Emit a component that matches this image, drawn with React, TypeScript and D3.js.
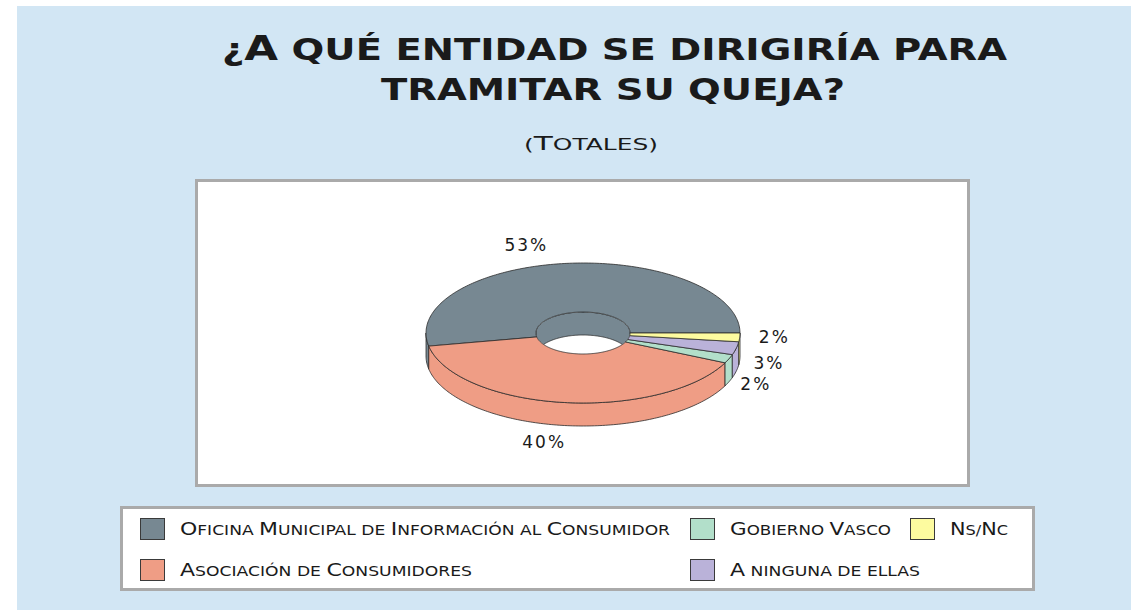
import React from "react";
import * as d3 from "d3";

// slices in the legend's order (column by column)
const categories: string[] = [
  "Oficina Municipal de Información al Consumidor",
  "Asociación de Consumidores",
  "Gobierno Vasco",
  "A ninguna de ellas",
  "Ns/Nc",
];
const values: number[] = [53, 40, 2, 3, 2];
const colors: string[] = ["#778892", "#ef9d85", "#b2dfca", "#bab2d9", "#fdfb9f"];
// where each percentage label sits: angle (deg, ccw from 3 o'clock) and radius factor
const labelAngles: number[] = [106, -99, -33.5, -19.9, -2.7];
const labelRadius: number[] = [1.31, 1.58, 1.32, 1.26, 1.22];
// legend text widths as printed
const legendWidths: number[] = [490, 292, 161, 190, 58];

const titleLines: string[] = ["¿A qué entidad se dirigiría para", "tramitar su queja?"];
const subtitle = "(Totales)";

// small caps: original capitals big, the rest as smaller capitals
const SmallCaps = ({ text, big, small }: { text: string; big: number; small: number }) => (
  <>
    {Array.from(text).map((ch, i) => {
      const isCap = ch !== ch.toLowerCase();
      return (
        <tspan key={i} fontSize={isCap ? big : small}>
          {ch.toUpperCase()}
        </tspan>
      );
    })}
  </>
);

const App = (): React.JSX.Element => {
  const width = 1135;
  const height = 610;
  const cx = 583;
  const cy = 333;
  const rx = 157;
  const ry = 70;
  const depth = 23;
  const inner = 0.3;
  const irx = rx * inner;
  const iry = ry * inner;

  const arcs = d3.pie<number>().sort(null).startAngle(0).endAngle(2 * Math.PI)(values);

  const pt = (t: number, a: number, b: number, dy = 0): [number, number] => [
    cx + a * Math.cos(t),
    cy - b * Math.sin(t) + dy,
  ];
  const sample = (s: number, e: number): number[] => {
    const n = Math.max(2, Math.ceil(((e - s) * 180) / Math.PI));
    return d3.range(n + 1).map((i) => s + ((e - s) * i) / n);
  };
  const line = d3.line();

  const topFace = (s: number, e: number): string => {
    const outer = sample(s, e).map((t) => pt(t, rx, ry));
    const inn = sample(s, e).reverse().map((t) => pt(t, irx, iry));
    return line([...outer, ...inn]) + "Z";
  };
  const outerWall = (s0: number, e0: number): string | null => {
    const s = Math.max(s0, Math.PI);
    const e = Math.min(e0, 2 * Math.PI);
    if (s >= e) return null;
    const top = sample(s, e).map((t) => pt(t, rx, ry));
    const bot = sample(s, e).reverse().map((t) => pt(t, rx, ry, depth));
    return line([...top, ...bot]) + "Z";
  };
  const innerWall = (s0: number, e0: number): string | null => {
    const s = Math.max(s0, 0);
    const e = Math.min(e0, Math.PI);
    if (s >= e) return null;
    const top = sample(s, e).map((t) => pt(t, irx, iry));
    const bot = sample(s, e).reverse().map((t) => pt(t, irx, iry, depth));
    return line([...top, ...bot]) + "Z";
  };

  const legendCols = [140, 690, 910];
  const legendRows = [518, 559];

  const stroke = "#2b2b2b";
  const font = "'DejaVu Sans', sans-serif";

  return (
    <svg width={width} height={height} style={{ position: "absolute", left: 0, top: 0 }}>
      <rect x={0} y={0} width={width} height={height} fill="#ffffff" />
      <rect x={17} y={6} width={1114} height={604} fill="#d2e6f4" />

      {/* title */}
      <text x={222} y={60} fontFamily={font} fontWeight="bold" fill="#1a1a1a" textLength={785} lengthAdjust="spacingAndGlyphs">
        <SmallCaps text={titleLines[0]} big={34} small={30} />
      </text>
      <text x={381} y={100} fontFamily={font} fontWeight="bold" fill="#1a1a1a" textLength={464} lengthAdjust="spacingAndGlyphs">
        <SmallCaps text={titleLines[1]} big={34} small={30} />
      </text>
      <text x={524} y={150} fontFamily={font} fill="#1a1a1a" textLength={134} lengthAdjust="spacingAndGlyphs">
        <SmallCaps text={subtitle} big={20} small={16} />
      </text>

      {/* plot area */}
      <rect x={196.5} y={180.5} width={772} height={305} fill="#ffffff" stroke="#aaaaaa" strokeWidth={3} />

      <defs>
        <clipPath id="hole">
          <ellipse cx={cx} cy={cy} rx={irx} ry={iry} />
        </clipPath>
      </defs>

      {/* inner wall seen through the hole */}
      <g clipPath="url(#hole)">
        {arcs.map((a, i) => {
          const d = innerWall(a.startAngle, a.endAngle);
          return d ? <path key={i} d={d} fill={colors[i]} stroke={stroke} strokeWidth={0.8} /> : null;
        })}
      </g>

      {/* outer side walls */}
      {arcs.map((a, i) => {
        const d = outerWall(a.startAngle, a.endAngle);
        return d ? <path key={i} d={d} fill={colors[i]} stroke={stroke} strokeWidth={0.8} /> : null;
      })}

      {/* top faces */}
      {arcs.map((a, i) => (
        <path key={i} d={topFace(a.startAngle, a.endAngle)} fill={colors[i]} stroke={stroke} strokeWidth={0.8} />
      ))}

      {/* labels */}
      {arcs.map((a, i) => {
        const t = (labelAngles[i] * Math.PI) / 180;
        const [lx, ly] = pt(t, rx * labelRadius[i], ry * labelRadius[i]);
        return (
          <text
            key={i}
            x={lx}
            y={ly}
            textAnchor="middle"
            dominantBaseline="central"
            fontFamily={font}
            fontSize={17}
            letterSpacing={2}
            fill="#1a1a1a"
          >
            {`${a.data}%`}
          </text>
        );
      })}

      {/* legend */}
      <rect x={121.5} y={507.5} width={912} height={82} fill="#ffffff" stroke="#aaaaaa" strokeWidth={3} />
      {categories.map((c, i) => {
        const col = Math.floor(i / 2);
        const row = i % 2;
        const x = legendCols[col];
        const y = legendRows[row];
        return (
          <g key={i}>
            <rect x={x + 0.5} y={y + 0.5} width={24} height={21} fill={colors[i]} stroke="#3a3a3a" strokeWidth={1} />
            <text
              x={x + 40}
              y={y + 17}
              fontFamily={font}
              fill="#1a1a1a"
              textLength={legendWidths[i]}
              lengthAdjust="spacingAndGlyphs"
            >
              <SmallCaps text={c} big={18} small={14} />
            </text>
          </g>
        );
      })}
    </svg>
  );
};

export default App;
